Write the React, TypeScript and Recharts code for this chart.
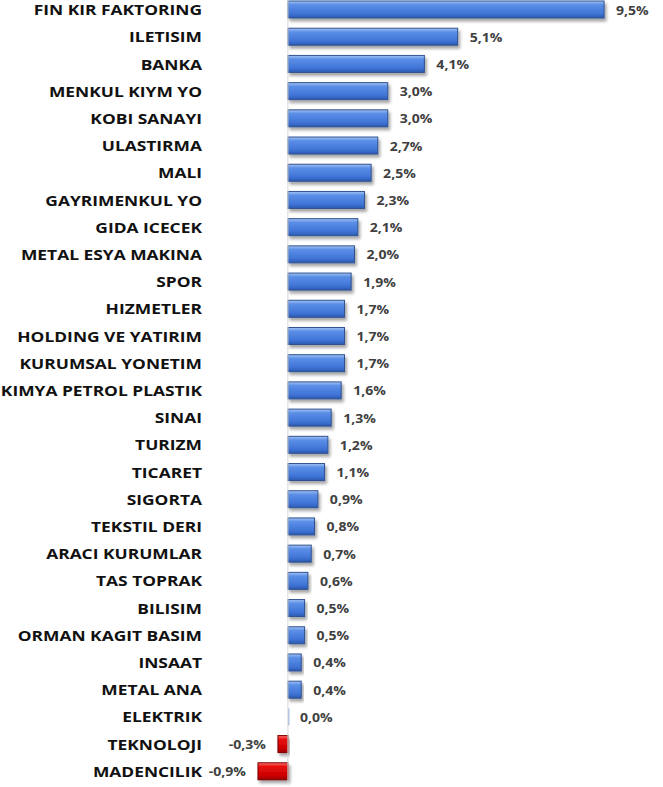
import React from "react";
import { BarChart, Bar, XAxis, YAxis, Cell, LabelList, ReferenceLine } from "recharts";

const categories = [
  "FIN KIR FAKTORING", "ILETISIM", "BANKA", "MENKUL KIYM YO", "KOBI SANAYI", "ULASTIRMA", "MALI",
  "GAYRIMENKUL YO", "GIDA ICECEK", "METAL ESYA MAKINA", "SPOR", "HIZMETLER", "HOLDING VE YATIRIM",
  "KURUMSAL YONETIM", "KIMYA PETROL PLASTIK", "SINAI", "TURIZM", "TICARET", "SIGORTA", "TEKSTIL DERI",
  "ARACI KURUMLAR", "TAS TOPRAK", "BILISIM", "ORMAN KAGIT BASIM", "INSAAT", "METAL ANA", "ELEKTRIK",
  "TEKNOLOJI", "MADENCILIK",
];
const values = [
  9.5, 5.1, 4.1, 3.0, 3.0, 2.7, 2.5, 2.3, 2.1, 2.0, 1.9, 1.7, 1.7, 1.7, 1.6, 1.3, 1.2, 1.1, 0.9, 0.8,
  0.7, 0.6, 0.5, 0.5, 0.4, 0.4, 0.0, -0.3, -0.9,
];

const data = categories.map((name, i) => ({ name, value: values[i] }));

const fmt = (v: number) => v.toFixed(1).replace(".", ",") + "%";

const CatTick = (props: any) => {
  const { y, payload } = props;
  return (
    <g transform={`translate(202, ${y}) scale(1.16, 1)`}>
      <text
        x={0}
        y={0}
        dy={5.5}
        textAnchor="end"
        fontFamily="Open Sans, sans-serif"
        fontWeight={700}
        fontSize={15}
        fill="#111111"
      >
        {payload.value}
      </text>
    </g>
  );
};

const ValueLabel = (props: any) => {
  const { x, y, width, height, value } = props;
  const left = Math.min(x, x + width);
  const right = Math.max(x, x + width);
  const neg = value < 0;
  const tx = neg ? left - 12 : right + 12;
  return (
    <g transform={`translate(${tx}, ${y + height / 2}) scale(1.08, 1)`}>
      <text
        x={0}
        y={0}
        dy={5}
        textAnchor={neg ? "end" : "start"}
        fontFamily="Open Sans, sans-serif"
        fontWeight={700}
        fontSize={13}
        fill="#404040"
      >
        {fmt(value)}
      </text>
    </g>
  );
};

const BarShape = (props: any) => {
  const { x, y, width, height, value } = props;
  const left = Math.min(x, x + width);
  const w = Math.abs(width);
  const neg = value < 0;
  if (w < 1) {
    return <rect x={left} y={y} width={1.5} height={height} fill="#9fb6e0" />;
  }
  return (
    <rect
      x={left}
      y={y}
      width={w}
      height={height}
      fill={neg ? "url(#gradRed)" : "url(#gradBlue)"}
      stroke={neg ? "#7a0000" : "#2f528f"}
      strokeWidth={1}
      filter="url(#shadow)"
    />
  );
};

export default function App() {
  return (
    <div style={{ position: "absolute", left: 0, top: -4, background: "#fff" }}>
      <BarChart
        width={663}
        height={792}
        data={data}
        layout="vertical"
        margin={{ top: 0, right: 9, bottom: 3, left: 0 }}
        barSize={17}
      >
        <defs>
          <linearGradient id="gradBlue" x1="0" y1="0" x2="0" y2="1">
            <stop offset="0%" stopColor="#a6c4f4" />
            <stop offset="22%" stopColor="#5b8fe7" />
            <stop offset="75%" stopColor="#3f74d6" />
            <stop offset="100%" stopColor="#2b58b0" />
          </linearGradient>
          <linearGradient id="gradRed" x1="0" y1="0" x2="0" y2="1">
            <stop offset="0%" stopColor="#ff7070" />
            <stop offset="22%" stopColor="#e81010" />
            <stop offset="75%" stopColor="#cc0000" />
            <stop offset="100%" stopColor="#990000" />
          </linearGradient>
          <filter id="shadow" x="-10%" y="-30%" width="130%" height="180%">
            <feDropShadow dx="2" dy="3" stdDeviation="1.5" floodColor="#000" floodOpacity="0.35" />
          </filter>
        </defs>
        <XAxis type="number" domain={[-1.5, 11]} hide />
        <YAxis
          type="category"
          dataKey="name"
          width={238}
          axisLine={false}
          tickLine={false}
          tick={<CatTick />}
          interval={0}
        />
        <ReferenceLine x={0} stroke="#d9d9d9" strokeWidth={1} ifOverflow="extendDomain" />
        <Bar dataKey="value" isAnimationActive={false} shape={<BarShape />}>
          {data.map((d, i) => (
            <Cell key={i} fill={d.value < 0 ? "#c00000" : "#4472c4"} />
          ))}
          <LabelList dataKey="value" content={<ValueLabel />} />
        </Bar>
      </BarChart>
    </div>
  );
}
